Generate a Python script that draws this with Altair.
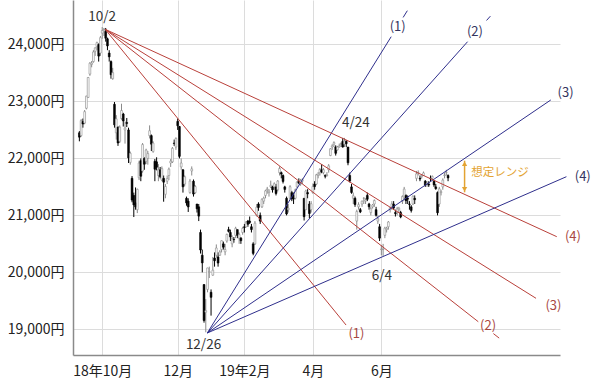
import altair as alt
import pandas as pd

FONT = "Noto Sans CJK JP"

# ---- daily candles (trading-day index; -13 = 2018-09-10, 0 = 2018-10-01) ----
first_index = -13
opens = [
    22450, 22400, 22650, 22620, 22880, 23070, 23480, 23650, 23700, 23880, 23960, 24000, 23850,  # Sep
    24200, 24260, 24230, 24100, 23850, 23700, 23400, 22950, 22450, 22550, 22300, 22700, 22780, 22500, 22630, 22500, 21930, 21650, 21350, 21220, 21100, 21660,  # Oct
    21960, 21780, 22000, 21950, 22000, 22400, 22400, 22120, 21950, 21940, 21700, 21800, 21620, 21650, 21370, 21600, 21700, 21920, 21940, 22270, 22200,  # Nov
    22650, 22560, 21850, 21800, 21550, 21300, 21250, 21400, 21780, 21600, 21400, 21200, 21150, 20700, 20300, 19785, 19300, 19700, 20000,  # Dec
    19650, 19950, 20250, 20300, 20270, 20300, 20400, 20500, 20360, 20550, 20750, 20700, 20500, 20580, 20650, 20750, 20600, 20600, 20700,  # Jan
    20800, 20800, 20900, 20900, 20800, 20500, 20500, 21000, 21200, 21000, 21150, 21250, 21350, 21450, 21400, 21500, 21500, 21500, 21500,  # Feb
    21450, 21750, 21750, 21700, 21500, 21300, 21100, 21300, 21400, 21350, 21300, 21500, 21600, 21550, 21600, 21300, 21100, 21400, 21200, 21100,  # Mar
    21400, 21550, 21550, 21700, 21750, 21800, 21750, 21700, 21700, 21800, 22050, 22200, 22250, 22200, 22150, 22200, 22250, 22300, 22250, 22300,  # Apr
    22200, 21700, 21500, 21300, 21300, 20900, 21150, 21100, 21200, 21300, 21250, 21350, 21200, 21050, 21150, 21200, 21100, 20900, 20800,  # May
    20400, 20400, 20650, 20750, 20800, 21100, 21150, 21200, 21050, 21050, 21100, 21050, 21250, 21300, 21350, 21300, 21200, 21150, 21200, 21300,  # Jun
    21650, 21750, 21650, 21680, 21700, 21600, 21550, 21550, 21650, 21650, 21600, 21500, 21400, 21200, 21400, 21500, 21700, 21750, 21700,  # Jul
]
highs = [
    22480, 22690, 22700, 22850, 23100, 23430, 23690, 23710, 23900, 23950, 24050, 24020, 24150,
    24306, 24290, 24290, 24120, 23900, 23720, 23590, 22990, 22760, 22560, 22580, 22960, 22800, 22650, 22710, 22540, 22120, 21690, 21400, 21490, 21470, 21960,
    22000, 22270, 22020, 22170, 22130, 22580, 22420, 22300, 21990, 22020, 21900, 21850, 21860, 21700, 21550, 21700, 21840, 21990, 22200, 22330, 22370,
    22700, 22570, 22000, 21810, 21700, 21330, 21300, 21640, 21860, 21630, 21530, 21200, 21200, 20750, 20400, 19790, 19530, 20080, 20100,
    19700, 20270, 20350, 20490, 20350, 20390, 20560, 20540, 20500, 20680, 20800, 20750, 20650, 20620, 20800, 20750, 20700, 20620, 20800,
    20850, 20900, 20920, 20980, 20850, 20530, 20900, 21200, 21230, 21050, 21300, 21330, 21450, 21500, 21460, 21610, 21520, 21580, 21550,
    21620, 21860, 21770, 21720, 21520, 21330, 21200, 21530, 21430, 21400, 21470, 21600, 21650, 21640, 21650, 21300, 21450, 21460, 21250, 21250,
    21560, 21600, 21730, 21760, 21830, 21900, 21830, 21720, 21760, 21900, 22180, 22250, 22300, 22230, 22220, 22260, 22280, 22360, 22360, 22320,
    22200, 21750, 21550, 21400, 21330, 21100, 21230, 21130, 21260, 21320, 21300, 21400, 21220, 21150, 21200, 21280, 21150, 21000, 20850,
    20480, 20500, 20800, 20800, 20900, 21150, 21250, 21250, 21100, 21150, 21150, 21080, 21350, 21500, 21370, 21350, 21250, 21180, 21350, 21350,
    21780, 21790, 21700, 21720, 21770, 21620, 21600, 21600, 21700, 21700, 21620, 21550, 21420, 21500, 21450, 21650, 21750, 21800, 21720,
]
lows = [
    22300, 22380, 22540, 22600, 22860, 23060, 23450, 23600, 23680, 23800, 23900, 23700, 23800,
    24100, 24150, 24050, 23900, 23700, 23400, 23380, 22540, 22330, 22220, 22270, 22680, 22560, 22260, 22550, 21920, 21890, 21230, 20971, 21100, 21040, 21620,
    21600, 21750, 21800, 21900, 21890, 22350, 22130, 22100, 21600, 21790, 21600, 21650, 21600, 21240, 21300, 21550, 21620, 21850, 21920, 22220, 22150,
    22500, 22000, 21800, 21400, 21510, 21170, 21060, 21380, 21700, 21330, 21380, 21050, 20900, 20330, 20000, 19117, 18948, 19650, 19900,
    19240, 19940, 20100, 20260, 20100, 20290, 20350, 20400, 20300, 20520, 20700, 20550, 20440, 20520, 20600, 20600, 20500, 20500, 20660,
    20700, 20790, 20800, 20850, 20700, 20300, 20480, 20980, 21080, 20850, 21130, 21200, 21300, 21380, 21330, 21480, 21400, 21450, 21350,
    21420, 21700, 21650, 21560, 21400, 21000, 21050, 21280, 21250, 21200, 21280, 21480, 21550, 21520, 21550, 20910, 21100, 21300, 20950, 21050,
    21380, 21450, 21530, 21650, 21700, 21740, 21720, 21650, 21680, 21750, 22040, 22150, 22200, 22050, 22140, 22190, 22200, 22190, 22200, 22200,
    21880, 21580, 21380, 21200, 21150, 20750, 21100, 21040, 21150, 21200, 21200, 21250, 21100, 21000, 21120, 21150, 20980, 20850, 20550,
    20300, 20289, 20600, 20700, 20750, 21050, 21100, 21100, 20980, 21000, 21050, 20950, 21200, 21280, 21200, 21200, 21100, 21050, 21180, 21200,
    21600, 21700, 21600, 21650, 21700, 21500, 21500, 21500, 21600, 21620, 21500, 21450, 21000, 21150, 21350, 21450, 21650, 21700, 21600,
]
closes = [
    22373, 22664, 22604, 22821, 23094, 23420, 23672, 23674, 23869, 23940, 24033, 23796, 24120,
    24245, 24270, 24110, 23975, 23783, 23469, 23506, 22590, 22694, 22271, 22549, 22841, 22658, 22532, 22614, 22010, 22091, 21268, 21184, 21149, 21457, 21920,
    21687, 22243, 21898, 22147, 22085, 22486, 22250, 22269, 21810, 21846, 21803, 21680, 21821, 21583, 21507, 21646, 21812, 21952, 22177, 22262, 22351,
    22574, 22036, 21919, 21501, 21678, 21219, 21148, 21602, 21816, 21374, 21506, 21115, 20987, 20392, 20166, 19155, 19327, 20077, 20014,
    19561, 20038, 20204, 20427, 20163, 20359, 20555, 20442, 20402, 20666, 20719, 20622, 20593, 20574, 20773, 20649, 20664, 20556, 20773,
    20788, 20883, 20844, 20874, 20751, 20333, 20864, 21144, 21139, 20900, 21281, 21302, 21431, 21464, 21425, 21528, 21449, 21556, 21385,
    21602, 21822, 21726, 21596, 21456, 21025, 21125, 21503, 21290, 21287, 21450, 21584, 21566, 21608, 21627, 20977, 21428, 21378, 21033, 21205,
    21509, 21505, 21713, 21724, 21807, 21761, 21802, 21687, 21711, 21870, 22169, 22221, 22277, 22090, 22200, 22218, 22259, 22200, 22307, 22258,
    21923, 21602, 21402, 21344, 21191, 21067, 21188, 21062, 21250, 21301, 21272, 21283, 21151, 21117, 21182, 21260, 21003, 20942, 20601,
    20410, 20408, 20776, 20774, 20884, 21134, 21204, 21129, 21032, 21116, 21124, 20972, 21333, 21462, 21258, 21285, 21193, 21086, 21338, 21275,
    21729, 21754, 21638, 21702, 21746, 21534, 21565, 21533, 21643, 21685, 21535, 21469, 21046, 21466, 21416, 21620, 21709, 21756, 21658,
]

# ---- axes ----
month_ticks = [0, 43, 81, 120, 159]
month_labels = ["18年10月", "12月", "19年2月", "4月", "6月"]
price_ticks = [19000, 20000, 21000, 22000, 23000, 24000]
x_domain = [-13.78, 257.9]
y_domain = [18549, 24781]

# ---- fan lines (origin, end points, labels) ----
fan_names = ["(1)", "(2)", "(3)", "(4)"]
red_origin = (1.67, 24267)
red_end_x = [138.9, 214.2, 247.1, 258.9]
red_end_y = [19075, 19133, 19544, 20626]
red_label_x = [144.8, 219.8, 257.0, 268.1]
red_label_y = [18918, 19058, 19409, 20626]
red_dash_line = [1]
red_dash_from = [222.8]
red_dash_to = [226.1]

blue_origin = (59.86, 18935)
blue_end_x = [164.6, 208.1, 255.5, 264.4]
blue_end_y = [24137, 24049, 23026, 21679]
blue_label_x = [168.3, 212.3, 263.9, 273.7]
blue_label_y = [24302, 24225, 23154, 21679]
blue_dash_line = [0, 1]
blue_dash_from = [171.4, 218.9]
blue_dash_to = [173.8, 221.1]

RED = "#b9403a"
RED_TXT = "#a8473f"
BLUE = "#2f2f8c"
BLUE_TXT = "#34345e"
ORANGE = "#e3a332"

# ---- annotations ----
ann_text = ["10/2", "4/24", "12/26", "6/4"]
ann_x = [0.0, 144.5, 57.7, 159.3]
ann_y = [24488, 22617, 18716, 19936]

range_x = 206.4
range_lo = 21405
range_hi = 21960
range_text = "想定レンジ"
range_text_x = 210.2
range_text_y = 21739

# ---- build tables ----
n = len(closes)
candles = pd.DataFrame({
    "i": list(range(first_index, first_index + n)),
    "open": opens, "high": highs, "low": lows, "close": closes,
})
up = candles["close"] >= candles["open"]
candles["body"] = ["#ffffff" if u else "#000000" for u in up]
candles["edge"] = ["#8a8a8a" if u else "#000000" for u in up]


def along(origin, ex, ey, x):
    ox, oy = origin
    return oy + (ey - oy) / (ex - ox) * (x - ox)


segs = []
for k in range(4):
    segs.append({"x": red_origin[0], "y": red_origin[1], "x2": red_end_x[k], "y2": red_end_y[k], "c": RED})
    segs.append({"x": blue_origin[0], "y": blue_origin[1], "x2": blue_end_x[k], "y2": blue_end_y[k], "c": BLUE})
for k, a, b in zip(red_dash_line, red_dash_from, red_dash_to):
    segs.append({"x": a, "y": along(red_origin, red_end_x[k], red_end_y[k], a),
                 "x2": b, "y2": along(red_origin, red_end_x[k], red_end_y[k], b), "c": RED})
for k, a, b in zip(blue_dash_line, blue_dash_from, blue_dash_to):
    segs.append({"x": a, "y": along(blue_origin, blue_end_x[k], blue_end_y[k], a),
                 "x2": b, "y2": along(blue_origin, blue_end_x[k], blue_end_y[k], b), "c": BLUE})
segs = pd.DataFrame(segs)

labels = pd.DataFrame({
    "x": red_label_x + blue_label_x,
    "y": red_label_y + blue_label_y,
    "t": fan_names + fan_names,
    "c": [RED_TXT] * 4 + [BLUE_TXT] * 4,
})
ann = pd.DataFrame({"x": ann_x, "y": ann_y, "t": ann_text})
rng = pd.DataFrame({"x": [range_x], "lo": [range_lo], "hi": [range_hi]})
rng_txt = pd.DataFrame({"x": [range_text_x], "y": [range_text_y], "t": [range_text]})

xs = alt.Scale(domain=x_domain, nice=False, zero=False)
ys = alt.Scale(domain=y_domain, nice=False, zero=False)

label_expr_x = "[" + ",".join("'" + s + "'" for s in month_labels) + "][indexof([" + \
    ",".join(str(v) for v in month_ticks) + "], datum.value)]"

x_axis = alt.Axis(values=month_ticks, labelExpr=label_expr_x, title=None, grid=True,
                  gridColor="#dcdcdc", gridWidth=1, domainColor="#8a8a8a", domainWidth=1.5,
                  ticks=False, tickSize=0, labelPadding=9, labelFont=FONT, labelFontSize=14,
                  labelColor="#222222", labelFlush=False)
y_axis = alt.Axis(values=price_ticks, labelExpr="format(datum.value, ',') + '円'", title=None,
                  grid=True, gridColor="#dcdcdc", gridWidth=1, domainColor="#8a8a8a",
                  domainWidth=1.5, ticks=False, tickSize=0, labelPadding=9, labelFont=FONT,
                  labelFontSize=14, labelColor="#222222")

wicks = alt.Chart(candles).mark_rule(strokeWidth=1).encode(
    x=alt.X("i:Q", scale=xs, axis=x_axis),
    y=alt.Y("low:Q", scale=ys, axis=y_axis),
    y2="high:Q",
    color=alt.Color("edge:N", scale=None),
)
bodies = alt.Chart(candles).mark_bar(size=1.8, strokeWidth=0.6).encode(
    x=alt.X("i:Q", scale=xs),
    y=alt.Y("open:Q", scale=ys),
    y2="close:Q",
    fill=alt.Fill("body:N", scale=None),
    stroke=alt.Stroke("edge:N", scale=None),
)
fans = alt.Chart(segs).mark_rule(strokeWidth=1).encode(
    x=alt.X("x:Q", scale=xs), y=alt.Y("y:Q", scale=ys),
    x2="x2:Q", y2="y2:Q",
    color=alt.Color("c:N", scale=None),
)
fan_labels = alt.Chart(labels).mark_text(font=FONT, fontSize=13).encode(
    x=alt.X("x:Q", scale=xs), y=alt.Y("y:Q", scale=ys), text="t:N",
    color=alt.Color("c:N", scale=None),
)
ann_layer = alt.Chart(ann).mark_text(font=FONT, fontSize=13.5, color="#333333").encode(
    x=alt.X("x:Q", scale=xs), y=alt.Y("y:Q", scale=ys), text="t:N",
)
rng_rule = alt.Chart(rng).mark_rule(strokeWidth=1.5, color=ORANGE).encode(
    x=alt.X("x:Q", scale=xs), y=alt.Y("lo:Q", scale=ys), y2="hi:Q",
)
rng_top = alt.Chart(rng).mark_point(shape="triangle-up", filled=True, size=28, color=ORANGE,
                                    opacity=1, yOffset=3).encode(
    x=alt.X("x:Q", scale=xs), y=alt.Y("hi:Q", scale=ys),
)
rng_bot = alt.Chart(rng).mark_point(shape="triangle-down", filled=True, size=28, color=ORANGE,
                                    opacity=1, yOffset=-3).encode(
    x=alt.X("x:Q", scale=xs), y=alt.Y("lo:Q", scale=ys),
)
rng_label = alt.Chart(rng_txt).mark_text(font=FONT, fontSize=11.5, color=ORANGE, align="left").encode(
    x=alt.X("x:Q", scale=xs), y=alt.Y("y:Q", scale=ys), text="t:N",
)

chart = alt.layer(
    wicks, bodies, fans, fan_labels, ann_layer, rng_rule, rng_top, rng_bot, rng_label
).properties(
    width=487, height=355,
    padding={"left": 73, "top": 0, "right": 40, "bottom": 28},
    autosize=alt.AutoSizeParams(type="none"),
    background="white",
).configure_view(stroke=None)

chart.save("out.html", embed_options={"renderer": "svg", "actions": False})
